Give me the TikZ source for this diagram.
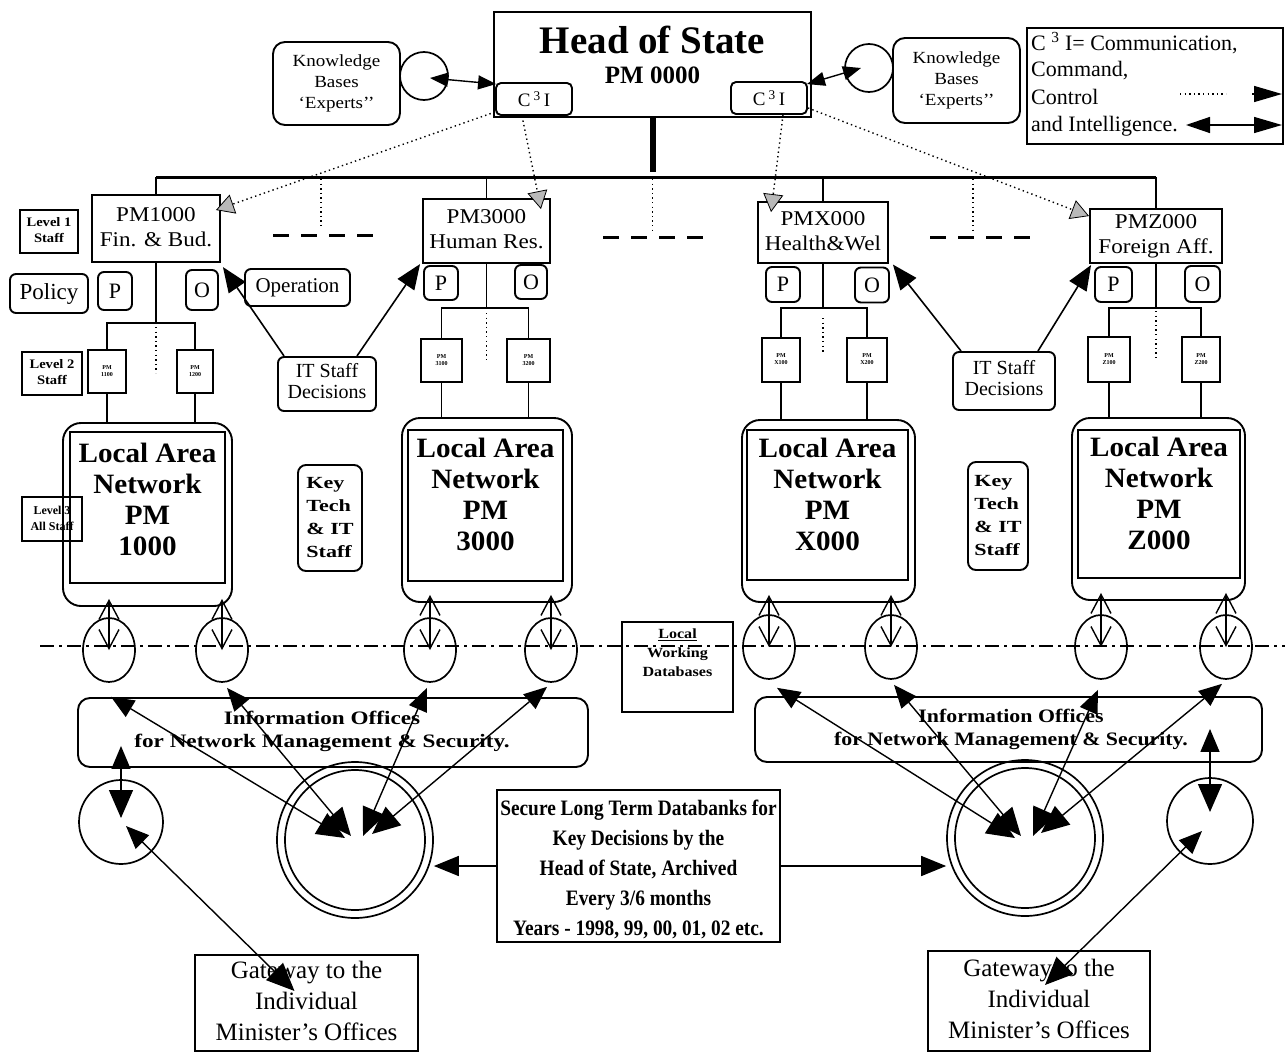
\documentclass[tikz,border=0pt]{standalone}
\usepackage{fontspec}
\setmainfont{Liberation Serif}
\usetikzlibrary{arrows.meta,shapes.geometric,calc}
\newcommand\fsz[2]{\fontsize{#1}{#2}\selectfont}
% #1 horizontal stretch, #2 font, #3 column alignment, #4 lines
\newcommand\txt[4]{\scalebox{#1}[1]{#2\begin{tabular}{@{}#3@{}}#4\end{tabular}}}
\begin{document}
\begin{tikzpicture}[x=1pt,y=-1pt,
  every node/.style={inner sep=0pt},
  box/.style={draw, line width=1.9pt, align=center},
  rbox/.style={box, rounded corners=6pt},
  sz/.style 2 args={minimum width=#1pt, minimum height=#2pt},
  ring/.style={draw, circle, line width=1.7pt},
  oval/.style={draw, ellipse, line width=1.7pt, minimum width=52pt, minimum height=64pt},
  link/.style={line width=1.8pt},
  dotline/.style={line width=1.4pt, dash pattern=on 1.4pt off 3.2pt},
  gtri/.style={dotline, -{Triangle[length=18pt,width=20pt,fill=gray!55,line width=0.8pt]}},
  big/.style={line width=1.4pt, {Triangle[length=23pt,width=19pt]}-{Triangle[length=28pt,width=24pt]}},
  one/.style={line width=1.6pt, -{Triangle[length=25pt,width=20pt]}},
  vv/.style={line width=1.4pt, {Straight Barb[length=19pt,width=20pt]}-{Straight Barb[length=19pt,width=20pt]}},
  kb/.style={line width=1.4pt, {Triangle[length=18pt,width=14pt]}-{Triangle[length=18pt,width=14pt]}},
  dashrow/.style={line width=3pt, dash pattern=on 16pt off 12pt},
]
\useasboundingbox (0,0) rectangle (1285,1052);

% ---------------- Head of State ----------------
\node[box, sz={317}{105}] (head) at (652.5,64.5) {};
\node[font=\fsz{39}{40}\bfseries] (headT) at (652.5,40) {Head of State};
\node[font=\fsz{25}{26}\bfseries] (headP) at (652.5,75) {PM 0000};
\node[rbox, rounded corners=5pt, sz={76}{32}, font=\fsz{19}{20}] (c3L) at (534,99) {C\,\textsuperscript{3}\,I};
\node[rbox, rounded corners=5pt, sz={76}{32}, font=\fsz{19}{20}] (c3R) at (769,98) {C\,\textsuperscript{3}\,I};

% knowledge bases
\node[rbox, rounded corners=12pt, sz={127}{83}] (kbL) at (336.5,83.5) {\txt{1.12}{\fsz{17}{21}}{c}{Knowledge\\Bases\\‘Experts’’}};
\node[rbox, rounded corners=12pt, sz={127}{85}] (kbR) at (956.5,80.5) {\txt{1.12}{\fsz{17}{21}}{c}{Knowledge\\Bases\\‘Experts’’}};
\node[ring, minimum size=48pt] (kcL) at (424,76) {};
\node[ring, minimum size=48pt] (kcR) at (869,68) {};
\draw[kb] ($(kcL.center)+(6,2)$) -- ($(c3L.north west)+(1,2)$);
\draw[kb] ($(c3R.north east)+(-1,3)$) -- ($(kcR.center)+(-8,0)$);

% legend
\node[box, sz={256}{116}] (leg) at (1155,86) {};
\node[anchor=base west, font=\fsz{22}{24}] (legA) at (1031,50) {C \textsuperscript{3} I= Communication,};
\node[anchor=base west, font=\fsz{22}{24}] (legB) at (1031,76) {Command,};
\node[anchor=base west, font=\fsz{22}{24}] (legC) at (1031,104) {Control};
\node[anchor=base west, font=\fsz{22}{24}] (legD) at (1031,131) {and Intelligence.};
\coordinate (ldA) at (1180,94);
\coordinate (ldB) at (1226,94);
\coordinate (ldC) at (1252,94);
\coordinate (ldD) at (1282,94);
\draw[dotline] (ldA) -- (ldB);
\draw[line width=1.4pt, -{Triangle[length=28pt,width=16pt]}] (ldC) -- (ldD);
\coordinate (lbA) at (1186,125);
\coordinate (lbB) at (1282,125);
\draw[line width=1.4pt, {Triangle[length=24pt,width=16pt]}-{Triangle[length=28pt,width=16pt]}] (lbA) -- (lbB);

% ---------------- ministries ----------------
\node[box, sz={128}{67}] (pm1) at (156,228.5) {\txt{1.1}{\fsz{21}{25}}{c}{PM1000\\Fin. \& Bud.}};
\node[box, sz={127}{64}] (pm3) at (486.5,231) {\txt{1.1}{\fsz{21}{25}}{c}{PM3000\\Human Res.}};
\node[box, sz={130}{61}] (pmx) at (823,232.5) {\txt{1.1}{\fsz{21}{25}}{c}{PMX000\\Health\&Wel}};
\node[box, sz={132}{54}] (pmz) at (1156,236) {\txt{1.1}{\fsz{21}{25}}{c}{PMZ000\\Foreign Aff.}};

% bus from the head of state
\coordinate (bus) at (652.5,177);
\draw[line width=6pt] (head.south) -- (652.5,172);
\draw[line width=3pt] (pm1.north |- bus) -- (pmz.north |- bus);
\foreach \p in {pm1,pm3,pmx,pmz} \draw[link] (\p.north) -- (\p.north |- bus);
\draw[dotline] (321,179) -- (321,228);
\draw[dotline] (652.5,179) -- (652.5,232);
\draw[dotline] (973,179) -- (973,232);
\draw[dashrow] (273,235) -- (380,235);
\draw[dashrow] (603,237) -- (705,237);
\draw[dashrow] (930,237) -- (1035,237);

% C3I links
\draw[gtri] ([yshift=-13pt]c3L.west) -- ($(pm1.north east)+(-5,16)$);
\draw[gtri] ([xshift=-12pt]c3L.south) -- ($(pm3.north east)+(-10,11)$);
\draw[gtri] ([xshift=14pt]c3R.south) -- ($(pmx.north west)+(14,11)$);
\draw[gtri] ([yshift=-10pt]c3R.east) -- ($(pmz.north west)+(0,8)$);

% staff levels
\node[box, line width=2pt, sz={58}{43}] (lv1) at (49,231.5) {\txt{1.12}{\fsz{13}{16}\bfseries}{c}{Level 1\\Staff}};
\node[box, line width=2pt, sz={60}{43}] (lv2) at (52,373.5) {\txt{1.12}{\fsz{13}{16}\bfseries}{c}{Level 2\\Staff}};
\node[box, line width=2pt, sz={60}{44}] (lv3) at (52,519) {\txt{1}{\fsz{12}{16}\bfseries}{c}{Level 3\\All Staff}};

% policy / operation units
\node[rbox, sz={78}{39}, font=\fsz{23}{24}] (pol) at (49,293.5) {Policy};
\node[rbox, sz={105}{37}, font=\fsz{21}{24}] (opr) at (297.5,287.5) {Operation};
\node[rbox, sz={34}{38}, font=\fsz{22}{24}] (P1) at (115,291) {P};
\node[rbox, sz={32}{40}, font=\fsz{22}{24}] (O1) at (202,290) {O};
\node[rbox, sz={34}{34}, font=\fsz{22}{24}] (P3) at (441,283) {P};
\node[rbox, sz={32}{34}, font=\fsz{22}{24}] (O3) at (531,282) {O};
\node[rbox, sz={34}{35}, font=\fsz{22}{24}] (PX) at (783,284.5) {P};
\node[rbox, sz={34}{35}, font=\fsz{22}{24}] (OX) at (872,285) {O};
\node[rbox, sz={37}{35}, font=\fsz{22}{24}] (PZ) at (1113.5,284.5) {P};
\node[rbox, sz={35}{36}, font=\fsz{22}{24}] (OZ) at (1202.5,284) {O};

% IT staff decisions
\node[rbox, sz={98}{54}] (itL) at (327,384) {\txt{1}{\fsz{20}{21}}{c}{IT Staff\\Decisions}};
\node[rbox, sz={102}{58}] (itR) at (1004,381) {\txt{1}{\fsz{20}{21}}{c}{IT Staff\\Decisions}};
\draw[one] ([xshift=7pt]itL.north west) -- ($(O1.north east)+(4,-2)$);
\draw[one] ([xshift=-20pt]itL.north east) -- ($(P3.north west)+(-3,-1)$);
\draw[one] ([xshift=9pt]itR.north west) -- ($(OX.north east)+(3,-2)$);
\draw[one] ([xshift=-18pt]itR.north east) -- ($(PZ.north west)+(-3,-1)$);

% level 2 units
\newcommand\lvtwo[1]{\txt{1}{\fsz{6}{7}\bfseries}{c}{PM\\#1}}
\node[box, sz={38}{43}] (a1) at (107,371.5) {\lvtwo{1100}};
\node[box, sz={36}{43}] (a2) at (195,371.5) {\lvtwo{1200}};
\node[box, sz={41}{43}] (b1) at (441.5,360.5) {\lvtwo{3100}};
\node[box, sz={43}{43}] (b2) at (528.5,360.5) {\lvtwo{3200}};
\node[box, sz={38}{44}] (x1) at (781,360) {\lvtwo{X100}};
\node[box, sz={40}{44}] (x2) at (867,360) {\lvtwo{X200}};
\node[box, sz={42}{45}] (z1) at (1109,359.5) {\lvtwo{Z100}};
\node[box, sz={38}{45}] (z2) at (1201,359.5) {\lvtwo{Z200}};
\coordinate (j1) at (156,323);
\coordinate (j3) at (486.5,308);
\coordinate (jx) at (823,308);
\coordinate (jz) at (1156,308);
\draw[link] (pm1.south) -- (j1);
\draw[link] (pm3.south) -- (j3);
\draw[link] (pmx.south) -- (jx);
\draw[link] (pmz.south) -- (jz);
\draw[link] (a1.north) |- (j1) -| (a2.north);
\draw[link] (b1.north) |- (j3) -| (b2.north);
\draw[link] (x1.north) |- (jx) -| (x2.north);
\draw[link] (z1.north) |- (jz) -| (z2.north);
\draw[dotline] ($(j1)+(0,4)$) -- ($(j1)+(0,50)$);
\draw[dotline] ($(j3)+(0,5)$) -- ($(j3)+(0,54)$);
\draw[dotline] ($(jx)+(0,10)$) -- ($(jx)+(0,44)$);
\draw[dotline] ($(jz)+(0,3)$) -- ($(jz)+(0,52)$);

% ---------------- local area networks ----------------
\node[rbox, rounded corners=18pt, sz={169}{183}] (lan1) at (147.5,514.5) {};
\node[box, sz={155}{151}] (lan1i) at (147.5,507.5) {};
\node[anchor=north] (lan1t) at ([yshift=-10pt]lan1i.north) {\txt{1.04}{\fsz{28}{31}\bfseries}{c}{Local Area\\Network\\PM\\1000}};
\node[rbox, rounded corners=18pt, sz={170}{184}] (lan3) at (487,510) {};
\node[box, sz={155}{151}] (lan3i) at (485.5,505.5) {};
\node[anchor=north] (lan3t) at ([yshift=-7pt]lan3i.north) {\txt{1.04}{\fsz{28}{31}\bfseries}{c}{Local Area\\Network\\PM\\3000}};
\node[rbox, rounded corners=18pt, sz={173}{182}] (lanx) at (828.5,511) {};
\node[box, sz={161}{150}] (lanxi) at (827.5,505) {};
\node[anchor=north] (lanxt) at ([yshift=-7pt]lanxi.north) {\txt{1.04}{\fsz{28}{31}\bfseries}{c}{Local Area\\Network\\PM\\X000}};
\node[rbox, rounded corners=18pt, sz={173}{182}] (lanz) at (1158.5,509) {};
\node[box, sz={162}{148}] (lanzi) at (1159,504) {};
\node[anchor=north] (lanzt) at ([yshift=-6pt]lanzi.north) {\txt{1.04}{\fsz{28}{31}\bfseries}{c}{Local Area\\Network\\PM\\Z000}};
\draw[link] (a1.south) -- (a1.south |- lan1.north);
\draw[link] (a2.south) -- (a2.south |- lan1.north);
\draw[link] (b1.south) -- (b1.south |- lan3.north);
\draw[link] (b2.south) -- (b2.south |- lan3.north);
\draw[link] (x1.south) -- (x1.south |- lanx.north);
\draw[link] (x2.south) -- (x2.south |- lanx.north);
\draw[link] (z1.south) -- (z1.south |- lanz.north);
\draw[link] (z2.south) -- (z2.south |- lanz.north);

% key tech staff
\node[rbox, rounded corners=8pt, sz={64}{106}] (ktL) at (330,518) {\txt{1.3}{\fsz{17}{23}\bfseries}{l}{Key\\Tech\\\& IT\\Staff}};
\node[rbox, rounded corners=8pt, sz={60}{108}] (ktR) at (998,516) {\txt{1.3}{\fsz{17}{23}\bfseries}{l}{Key\\Tech\\\& IT\\Staff}};

% ---------------- working level ----------------
\draw[line width=2pt, dash pattern=on 14pt off 5pt on 3pt off 5pt] (40,646) -- (1285,646);
\node[oval] (c1) at (109,650) {};
\node[oval] (c2) at (222,650) {};
\node[oval] (c3) at (430,650) {};
\node[oval] (c4) at (551,650) {};
\node[oval] (c5) at (769,647) {};
\node[oval] (c6) at (891,647) {};
\node[oval] (c7) at (1101,647) {};
\node[oval] (c8) at (1226,647) {};
\foreach \c/\l in {c1/lan1,c2/lan1,c3/lan3,c4/lan3,c5/lanx,c6/lanx,c7/lanz,c8/lanz}
  \draw[vv] ($(\c.center |- \l.south)+(0,-8)$) -- (\c.center);

\node[box, sz={111}{90}] (lwd) at (677.5,667) {};
\node[anchor=north] (lwdt) at ([yshift=-4pt]lwd.north) {\txt{1.15}{\fsz{14}{19}\bfseries}{c}{\underline{Local}\\Working\\Databases}};

% information offices
\node[rbox, rounded corners=12pt, sz={510}{69}] (ioL) at (333,732.5) {};
\node (ioLt) at (322,731) {\txt{1.22}{\fsz{19}{23}\bfseries}{c}{Information Offices\\for Network Management \& Security.}};
\node[rbox, rounded corners=12pt, sz={507}{65}] (ioR) at (1008.5,729.5) {};
\node (ioRt) at (1011,729) {\txt{1.15}{\fsz{19}{23}\bfseries}{c}{Information Offices\\for Network Management \& Security.}};

% archives
\node[ring, minimum size=156pt] (dbL) at (355,840) {};
\node[ring, minimum size=140pt] (dbLi) at (355,840) {};
\node[ring, minimum size=156pt] (dbR) at (1025,838) {};
\node[ring, minimum size=140pt] (dbRi) at (1025,838) {};
\node[ring, minimum size=84pt] (scL) at (121,822) {};
\node[ring, minimum size=86pt] (scR) at (1210,821) {};

\draw[big] ($(c1.south)+(2,14)$) -- ($(dbL.center)+(-10,-2)$);
\draw[big] ($(c2.south)+(5,5)$) -- ($(dbL.center)+(-4,-4)$);
\draw[big] ($(c3.south)+(-3,5)$) -- ($(dbL.center)+(8,-4)$);
\draw[big] ($(c4.south)+(-4,4)$) -- ($(dbL.center)+(17,-6)$);
\draw[big] ($(c5.south)+(8,8)$) -- ($(dbR.center)+(-10,0)$);
\draw[big] ($(c6.south)+(3,5)$) -- ($(dbR.center)+(-4,-2)$);
\draw[big] ($(c7.south)+(-3,10)$) -- ($(dbR.center)+(8,-2)$);
\draw[big] ($(c8.south)+(-4,4)$) -- ($(dbR.center)+(16,-5)$);

\draw[big] ($(scL.center |- ioL.south)+(0,-22)$) -- ($(scL.center)+(0,-4)$);
\draw[big] ($(scR.center |- ioR.south)+(0,-34)$) -- ($(scR.center)+(0,-9)$);

\node[box, sz={283}{152}] (sec) at (638.5,866) {};
\node (sect) at (638.5,869) {\txt{0.88}{\fsz{22}{30}\bfseries}{c}{Secure Long Term Databanks for\\Key Decisions by the\\Head of State, Archived\\Every 3/6 months\\Years - 1998, 99, 00, 01, 02 etc.}};
\draw[one] (sec.west) -- (sec.west -| dbL.east);
\draw[one] (sec.east) -- (sec.east -| dbR.west);

% gateways
\node[box, sz={223}{96}] (gwL) at (306.5,1003) {\txt{1}{\fsz{25}{31}}{c}{Gateway to the\\Individual\\Minister’s Offices}};
\node[box, sz={222}{100}] (gwR) at (1039,1001) {\txt{1}{\fsz{25}{31}}{c}{Gateway to the\\Individual\\Minister’s Offices}};
\draw[big] ($(scL.center)+(5,4)$) -- ($(gwL.center)+(-12,-12)$);
\draw[big] ($(scR.center)+(-8,10)$) -- ($(gwR.center)+(6,-16)$);
\end{tikzpicture}
\end{document}
